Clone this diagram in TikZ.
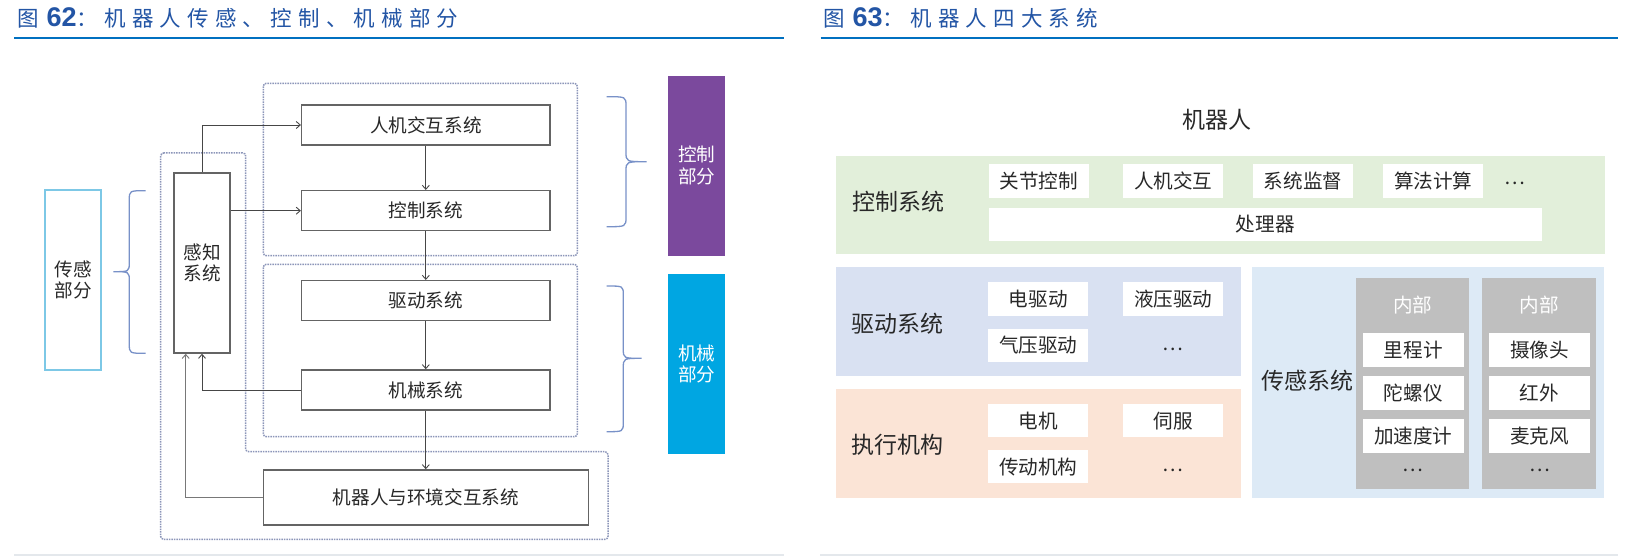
\documentclass[tikz,border=0pt]{standalone}
\usepackage{fontspec}
\setmainfont{Noto Sans CJK SC}
\newfontfamily\arialf{Liberation Sans}
\usetikzlibrary{arrows.meta}
\definecolor{titleblue}{RGB}{35,85,165}
\definecolor{linebl}{RGB}{0,112,192}
\definecolor{boxgray}{RGB}{100,100,100}
\definecolor{arrcol}{RGB}{70,70,70}
\definecolor{lightarr}{RGB}{120,120,120}
\definecolor{dotcol}{RGB}{140,150,185}
\definecolor{bracecol}{RGB}{120,145,200}
\definecolor{cyanbd}{RGB}{125,200,230}
\definecolor{purp}{RGB}{123,73,157}
\definecolor{skyb}{RGB}{0,166,226}
\definecolor{txt}{RGB}{40,40,40}
\definecolor{gfill}{RGB}{226,239,218}
\definecolor{lfill}{RGB}{217,225,242}
\definecolor{pfill}{RGB}{251,228,214}
\definecolor{bfill}{RGB}{221,234,246}
\definecolor{colgray}{RGB}{191,191,191}
\definecolor{botline}{RGB}{228,232,236}
\newcommand{\ts}{\hspace{6.2pt}}
\begin{document}
\begin{tikzpicture}[x=1pt,y=-1pt,
  ttl/.style={anchor=west,inner sep=0pt,text=titleblue,font=\fontsize{21.5}{24}\selectfont},
  sysbox/.style={draw=boxgray,line width=1.5pt,minimum width=248.3pt,minimum height=40pt,inner sep=0pt,text=txt,font=\fontsize{18.6}{22}\selectfont},
  tallbox/.style={minimum width=56pt,minimum height=180pt,inner sep=0pt,align=center,font=\fontsize{18.6}{21.7}\selectfont},
  dotbox/.style={draw=dotcol,densely dotted,line width=1.5pt,rounded corners=3pt},
  arr/.style={draw=arrcol,line width=0.9pt,-{Straight Barb[length=4pt,width=7pt]}},
  bracepath/.style={draw=bracecol,line width=1.3pt},
  item/.style={fill=white,minimum width=100pt,minimum height=33.4pt,inner sep=0pt,text=txt,font=\fontsize{19.6}{22}\selectfont},
  lbl/.style={text=txt,inner sep=0pt,font=\fontsize{23}{26}\selectfont},
  inlbl/.style={text=white,inner sep=0pt,font=\fontsize{19.6}{22}\selectfont},
  dots/.style={text=txt,inner sep=0pt,font=\fontsize{19.6}{22}\selectfont}
]
\useasboundingbox (0,0) rectangle (1639,556);
\fill[white] (0,0) rectangle (1639,556);

% ---------- headers ----------
\node[ttl] (t1) at (17,18) {图\hspace{8pt}{\arialf\bfseries\fontsize{27}{28}\selectfont 62}：\ts 机\ts 器\ts 人\ts 传\ts 感\ts 、\ts 控\ts 制\ts 、\ts 机\ts 械\ts 部\ts 分};
\node[ttl] (t2) at (823,18) {图\hspace{8pt}{\arialf\bfseries\fontsize{27}{28}\selectfont 63}：\ts 机\ts 器\ts 人\ts 四\ts 大\ts 系\ts 统};
\draw[linebl,line width=2pt] (14.3,38.3) -- (784,38.3);
\draw[linebl,line width=2pt] (820.6,38.3) -- (1618,38.3);
\draw[botline,line width=1.5pt] (14,555) -- (784,555);
\draw[botline,line width=1.5pt] (820,555) -- (1618,555);

% ---------- left diagram ----------
\draw[dotbox] (263.3,83.3) rectangle (577.3,255.7);
\draw[dotbox] (263.3,264.3) rectangle (577.3,436.7);
\draw[dotbox] (160.7,153) -- (245.7,153) -- (245.7,451.7) -- (608,451.7) -- (608,539.3) -- (160.7,539.3) -- cycle;

\node[tallbox,draw=cyanbd,line width=1.5pt,text=txt] (cg) at (73,280) {传感\\部分};
\node[tallbox,draw=boxgray,line width=1.5pt,text=txt] (gz) at (202,263) {感知\\系统};
\node[sysbox] (hm) at (425.8,125) {人机交互系统};
\node[sysbox] (kz) at (425.8,210.7) {控制系统};
\node[sysbox] (qd) at (425.8,300.7) {驱动系统};
\node[sysbox] (jx) at (425.8,390) {机械系统};
\node[sysbox,minimum width=325pt,minimum height=55pt] (env) at (425.8,497.5) {机器人与环境交互系统};
\node[tallbox,fill=purp,text=white,minimum width=56.7pt,minimum height=179.7pt] (kzbf) at (696.7,165.8) {控制\\部分};
\node[tallbox,fill=skyb,text=white,minimum width=56.7pt,minimum height=180pt] (jxbf) at (696.7,364) {机械\\部分};

\draw[arr] (gz.north) |- (hm.west);
\draw[arr] (gz.east |- kz.west) -- (kz.west);
\draw[arr] (hm.south) -- (kz.north);
\draw[arr] (kz.south) -- (qd.north);
\draw[arr] (qd.south) -- (jx.north);
\draw[arr] (jx.south) -- (env.north);
\draw[arr] (jx.west) -| (gz.south);
\coordinate (gzin) at (185.7,353.8);
\draw[arr,draw=lightarr] (env.west) -| (gzin);

% braces
\draw[bracepath] (145.7,190.7) .. controls (129.3,190.7) .. (129.3,200) -- (129.3,262) .. controls (129.3,271.7) .. (113.3,271.7) .. controls (129.3,271.7) .. (129.3,281) -- (129.3,344) .. controls (129.3,353.3) .. (145.7,353.3);
\draw[bracepath] (606.7,96.7) .. controls (626,96.7) .. (626,106) -- (626,152) .. controls (626,161.7) .. (646.7,161.7) .. controls (626,161.7) .. (626,171) -- (626,217) .. controls (626,226.7) .. (606.7,226.7);
\draw[bracepath] (606.7,286) .. controls (623.3,286) .. (623.3,295) -- (623.3,349) .. controls (623.3,358.3) .. (641.7,358.3) .. controls (623.3,358.3) .. (623.3,368) -- (623.3,422) .. controls (623.3,431.7) .. (606.7,431.7);

% ---------- right diagram ----------
\node[lbl] (robot) at (1217,120) {机器人};

\node[fill=gfill,minimum width=769pt,minimum height=98.3pt,inner sep=0pt] (gbox) at (1220.5,204.9) {};
\node[lbl] (kzl) at (898.3,201.7) {控制系统};
\node[item] (k1) at (1038.7,181) {关节控制};
\node[item] (k2) at (1173.2,181) {人机交互};
\node[item] (k3) at (1303,181) {系统监督};
\node[item] (k4) at (1433.3,181) {算法计算};
\node[dots] (k5) at (1515,183) {…};
\node[item,minimum width=552.7pt,minimum height=33.3pt] (cpu) at (1265.3,224.3) {处理器};

\node[fill=lfill,minimum width=404.7pt,minimum height=108.7pt,inner sep=0pt] (lbox) at (1038.3,321.7) {};
\node[lbl] (qdl) at (897.5,323.3) {驱动系统};
\node[item] (d1) at (1038.3,299) {电驱动};
\node[item] (d2) at (1173.3,299) {液压驱动};
\node[item] (d3) at (1038.3,345.3) {气压驱动};
\node[dots] (d4) at (1173.3,349) {…};

\node[fill=pfill,minimum width=404.7pt,minimum height=108.4pt,inner sep=0pt] (pbox) at (1038.3,443.5) {};
\node[lbl] (zxl) at (897.5,444.3) {执行机构};
\node[item] (e1) at (1038.3,420.7) {电机};
\node[item] (e2) at (1173.3,420.7) {伺服};
\node[item] (e3) at (1038.3,466.7) {传动机构};
\node[dots] (e4) at (1173.3,470.7) {…};

\node[fill=bfill,minimum width=352.6pt,minimum height=230.4pt,inner sep=0pt] (bbox) at (1428,382.5) {};
\node[lbl] (cgl) at (1307.2,381) {传感系统};
\node[fill=colgray,minimum width=113.3pt,minimum height=211pt,inner sep=0pt] (c1) at (1412.7,383.8) {};
\node[fill=colgray,minimum width=113.7pt,minimum height=211pt,inner sep=0pt] (c2) at (1539.2,383.8) {};
\node[inlbl] (c1t) at (1412.7,305) {内部};
\node[inlbl] (c2t) at (1539.2,305) {内部};
\node[item,minimum width=101.3pt] (s1) at (1413.3,350) {里程计};
\node[item,minimum width=101.3pt] (s2) at (1413.3,393) {陀螺仪};
\node[item,minimum width=101.3pt] (s3) at (1413.3,436) {加速度计};
\node[dots] (s4) at (1413.3,470) {…};
\node[item,minimum width=101pt] (s5) at (1539.5,350) {摄像头};
\node[item,minimum width=101pt] (s6) at (1539.5,393) {红外};
\node[item,minimum width=101pt] (s7) at (1539.5,436) {麦克风};
\node[dots] (s8) at (1539.5,470) {…};
\end{tikzpicture}
\end{document}
